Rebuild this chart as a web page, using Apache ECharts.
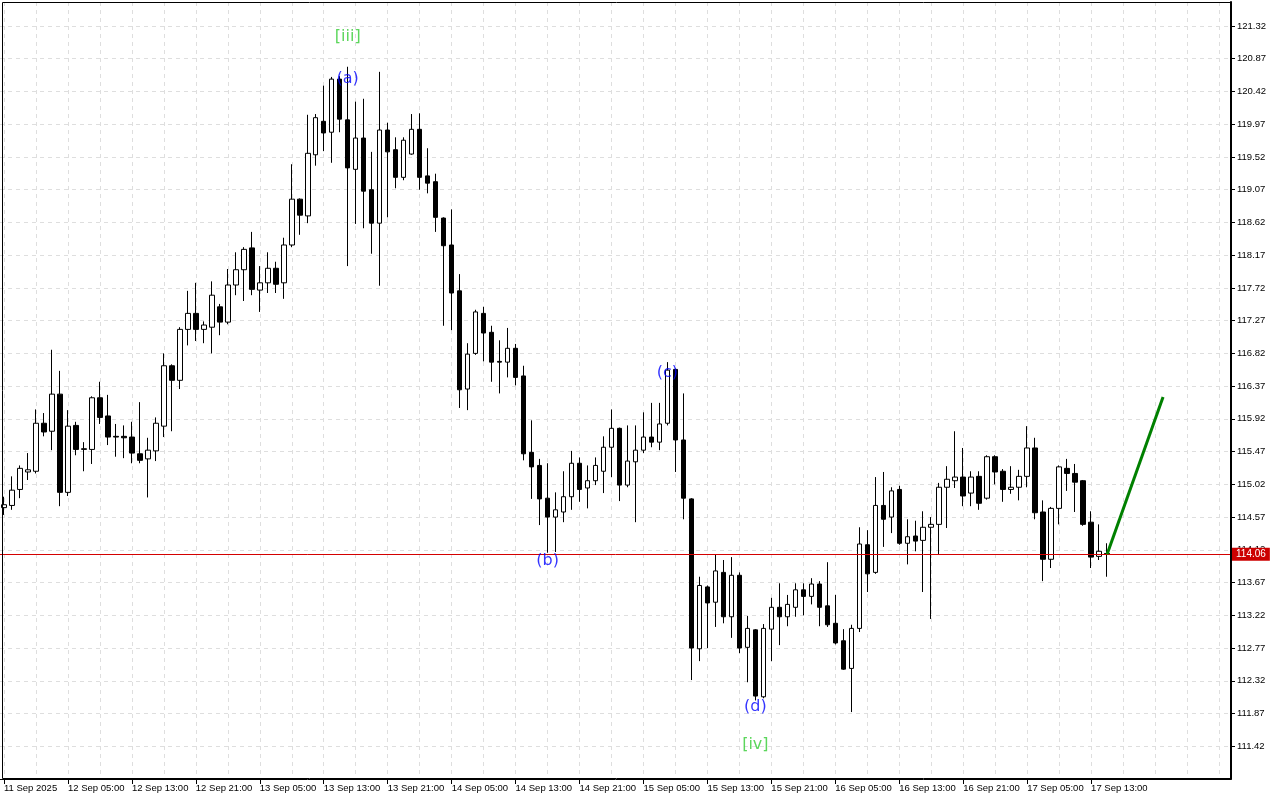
<!DOCTYPE html>
<html><head><meta charset="utf-8">
<script src="https://cdn.jsdelivr.net/npm/echarts@6/dist/echarts.min.js"></script>
<style>html,body{margin:0;padding:0;background:#fff}#chart{width:1280px;height:800px}</style>
</head><body><div id="chart"></div>
<script>
// ---- data ----
const firstBarUTC = Date.UTC(2025, 8, 11, 21); // 11 Sep 2025 21:00, hourly bars
const slotCount = 154;                          // bars + empty space on the right
const opens = [114.70,114.73,114.95,115.19,115.20,115.86,115.75,116.26,114.91,115.83,
115.50,115.50,116.21,115.96,115.68,115.68,115.67,115.44,115.37,115.48,
115.82,116.65,116.45,117.15,117.37,117.15,117.18,117.46,117.25,117.76,
117.97,118.27,117.69,117.79,117.99,117.79,118.31,118.94,118.71,119.55,
120.01,119.86,120.59,120.03,119.35,119.78,119.07,118.61,119.89,119.62,
119.24,119.56,119.90,119.26,119.18,118.68,118.31,117.68,116.33,116.82,
117.37,117.11,116.71,116.70,116.89,116.51,115.46,115.28,114.83,114.57,
114.64,114.85,115.31,114.97,115.07,115.20,115.53,115.79,115.01,115.33,
115.49,115.67,115.60,115.86,116.60,115.63,114.82,112.76,113.61,113.40,
113.81,113.20,113.77,112.78,113.02,112.10,113.03,113.33,113.20,113.33,
113.57,113.48,113.65,113.35,113.11,112.87,112.49,113.04,114.19,113.81,
114.73,114.57,114.95,114.21,114.31,114.25,114.43,114.47,114.98,115.07,
115.12,114.90,115.13,114.83,115.40,115.20,114.95,114.98,115.13,115.52,
114.64,113.99,114.69,115.24,115.17,115.07,114.50,114.03,114.07];
const closes = [114.74,114.94,115.24,115.22,115.86,115.74,116.26,114.91,115.82,115.50,
115.51,116.21,115.94,115.67,115.67,115.66,115.45,115.35,115.49,115.86,
116.65,116.45,117.15,117.37,117.15,117.21,117.62,117.25,117.76,117.97,
118.25,117.70,117.79,117.99,117.77,118.31,118.94,118.72,119.57,120.06,
119.85,120.59,120.04,119.37,119.78,119.05,118.61,119.89,119.59,119.24,
119.75,119.90,119.24,119.16,118.69,118.30,117.65,116.32,116.81,117.39,
117.10,116.70,116.70,116.89,116.49,115.44,115.26,114.82,114.57,114.67,
114.85,115.31,114.95,115.07,115.28,115.53,115.79,115.01,115.34,115.49,
115.67,115.60,115.85,116.59,115.63,114.83,112.77,113.63,113.39,113.83,
113.20,113.77,112.77,113.04,112.11,113.04,113.33,113.20,113.37,113.57,
113.48,113.65,113.33,113.09,112.84,112.48,113.04,114.20,113.79,114.73,
114.54,114.93,114.21,114.30,114.24,114.43,114.47,114.98,115.09,115.12,
114.86,115.12,114.76,115.40,115.19,114.95,114.98,115.13,115.52,114.63,
113.99,114.69,115.26,115.17,115.05,114.47,114.02,114.10,114.06];
const highs = [114.85,115.13,115.28,115.45,116.05,116.00,116.87,116.58,116.04,115.88,
115.60,116.23,116.43,116.25,115.85,115.83,115.88,116.15,115.66,115.94,
116.82,116.67,117.18,117.68,117.79,117.26,117.81,117.50,117.98,118.21,
118.28,118.49,118.02,118.21,118.08,118.41,119.42,118.95,120.10,120.11,
120.50,120.62,120.63,120.76,120.28,120.32,119.59,120.69,119.99,119.79,
119.79,120.11,120.12,119.64,119.29,118.69,118.80,117.91,116.96,117.42,
117.46,117.20,117.00,117.17,116.95,116.65,115.90,115.37,115.31,114.91,
115.20,115.48,115.39,115.28,115.39,115.68,116.05,115.80,115.83,115.83,
116.01,116.14,116.14,116.70,116.61,116.27,114.83,113.75,113.63,114.06,
113.98,114.02,113.81,113.21,113.03,113.10,113.46,113.66,113.50,113.66,
113.66,113.73,113.69,113.95,113.50,113.03,113.09,114.43,114.39,115.12,
115.19,114.98,115.00,114.54,114.52,114.65,114.57,115.04,115.27,115.75,
115.52,115.20,115.20,115.42,115.42,115.23,115.27,115.22,115.82,115.66,
114.80,114.71,115.28,115.37,115.30,115.08,114.65,114.47,114.21];
const lows = [114.60,114.67,114.83,115.08,115.17,115.68,115.49,114.72,114.86,115.42,
115.20,115.30,115.85,115.56,115.40,115.38,115.31,115.31,114.84,115.34,
115.67,115.75,116.33,116.93,116.99,116.96,116.82,117.07,117.22,117.62,
117.54,117.62,117.39,117.65,117.65,117.57,118.28,118.45,118.61,119.40,
119.60,119.44,119.86,118.02,118.60,118.54,118.19,117.75,118.69,119.09,
119.20,119.55,119.07,119.02,118.49,117.20,117.14,116.07,116.04,116.80,
116.71,116.43,116.27,116.49,116.38,115.35,114.82,114.46,114.08,114.09,
114.50,114.67,114.78,114.69,115.01,114.90,115.12,114.79,114.98,114.50,
115.45,115.53,115.49,115.83,115.19,114.54,112.33,112.59,112.77,113.06,
113.11,112.91,112.70,112.30,112.05,112.08,112.59,112.81,113.07,113.20,
113.22,113.37,113.07,113.06,112.82,112.47,111.89,112.99,113.54,113.79,
114.16,114.35,114.19,113.92,114.10,113.54,113.17,114.06,114.42,114.97,
114.72,114.72,114.67,114.81,115.02,114.78,114.89,114.80,114.98,114.54,
113.69,113.87,114.47,114.93,114.64,114.45,113.87,113.98,113.75];
const timeTickLabels = ['11 Sep 2025','12 Sep 05:00','12 Sep 13:00','12 Sep 21:00','13 Sep 05:00',
'13 Sep 13:00','13 Sep 21:00','14 Sep 05:00','14 Sep 13:00','14 Sep 21:00','15 Sep 05:00',
'15 Sep 13:00','15 Sep 21:00','16 Sep 05:00','16 Sep 13:00','16 Sep 21:00','17 Sep 05:00','17 Sep 13:00'];
const priceTicks = [111.42,111.87,112.32,112.77,113.22,113.67,114.12,114.57,115.02,115.47,115.92,
116.37,116.82,117.27,117.72,118.17,118.62,119.07,119.52,119.97,120.42,120.87,121.32];
const priceMin = 110.97, priceMax = 121.65;
const lastPrice = 114.06;
const forecastIdx = [138, 145];
const forecastPrice = [114.06, 116.22];
const waveText  = ['[iii]', '(a)', '(b)', '(c)', '(d)', '[iv]'];
const waveIdx   = [43, 43, 68, 83, 94, 94];
const wavePrice = [121.17, 120.60, 113.97, 116.55, 111.96, 111.44];

// ---- build ----
const months = ['Jan','Feb','Mar','Apr','May','Jun','Jul','Aug','Sep','Oct','Nov','Dec'];
const categories = [];
for (let i = 0; i < slotCount; i++) {
  const d = new Date(firstBarUTC + i * 3600000);
  categories.push(d.getUTCDate() + ' ' + months[d.getUTCMonth()] + ' ' + String(d.getUTCHours()).padStart(2,'0') + ':00');
}
const candles = opens.map((o, i) => [o, closes[i], lows[i], highs[i]]);
const waveData = waveText.map((t, i) => ({
  name: t, value: [waveIdx[i], wavePrice[i]],
  label: { color: t.charAt(0) === '[' ? '#33cc33' : '#0000ff' }
}));
const labelEvery = 8;
const isTimeTick = i => i % labelEvery === 0 && i / labelEvery < timeTickLabels.length;

const gridColor = '#dedede';
const chart = echarts.init(document.getElementById('chart'), null, { renderer: 'canvas' });
chart.setOption({
  animation: false,
  backgroundColor: '#ffffff',
  grid: { left: -2, right: 49, top: 2, bottom: 21, containLabel: false },
  xAxis: {
    type: 'category', data: categories, boundaryGap: true,
    axisLine: { show: true, lineStyle: { color: '#000', width: 1 } },
    axisTick: { show: true, interval: (i) => isTimeTick(i), alignWithLabel: true, length: 5, lineStyle: { color: '#000' } },
    axisLabel: {
      interval: (i) => isTimeTick(i), align: 'left', margin: 4, fontSize: 9.5, color: '#000',
      fontFamily: 'Liberation Sans, Arial, sans-serif',
      formatter: (v, i) => isTimeTick(i) ? timeTickLabels[i / labelEvery] : ''
    },
    splitLine: { show: true, interval: 3, alignWithLabel: true, lineStyle: { color: gridColor, type: [4, 4], width: 1 } }
  },
  yAxis: {
    type: 'value', position: 'right', min: priceMin, max: priceMax, scale: true,
    axisLine: { show: true, lineStyle: { color: '#000', width: 2 } },
    axisTick: { show: true, length: 4, customValues: priceTicks, lineStyle: { color: '#000' } },
    axisLabel: {
      customValues: priceTicks, margin: 6, fontSize: 9.5, color: '#000',
      fontFamily: 'Liberation Sans, Arial, sans-serif',
      formatter: v => Number(v).toFixed(2)
    },
    splitLine: { show: true, lineStyle: { color: gridColor, type: [4, 4], width: 1 } }
  },
  graphic: [{
    type: 'rect', silent: true, z: 50,
    shape: { x: 2.5, y: 2.5, width: 1228, height: 776 },
    style: { fill: 'none', stroke: '#000', lineWidth: 1 }
  }],
  series: [
    {
      type: 'candlestick', data: candles, barWidth: 5,
      itemStyle: { color: '#ffffff', color0: '#000000', borderColor: '#000000', borderColor0: '#000000', borderWidth: 1 },
      markLine: {
        silent: true, symbol: ['none', 'none'], animation: false,
        data: [{ yAxis: lastPrice }],
        lineStyle: { color: '#d40000', width: 1, type: 'solid' },
        label: {
          show: true, position: 'end', distance: 1, formatter: lastPrice.toFixed(2),
          backgroundColor: '#cc0000', color: '#ffffff', padding: [2, 4, 1, 4], fontSize: 10,
          fontFamily: 'Liberation Sans, Arial, sans-serif'
        }
      }
    },
    {
      type: 'line', data: forecastIdx.map((x, i) => [x, forecastPrice[i]]),
      symbol: 'none', lineStyle: { color: '#008000', width: 3 }, z: 5
    },
    {
      type: 'scatter', data: waveData, symbolSize: 0, z: 6,
      label: { show: true, position: 'inside', formatter: p => p.name, fontSize: 16, fontFamily: 'DejaVu Sans, sans-serif' }
    }
  ]
});
</script></body></html>
